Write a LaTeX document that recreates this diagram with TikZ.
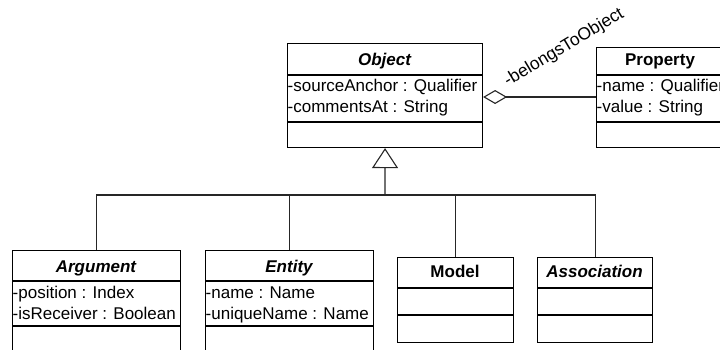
\documentclass[tikz,border=0pt]{standalone}
\usepackage{fontspec}
\setmainfont{Liberation Sans}
\usetikzlibrary{arrows.meta}
\begin{document}
\begin{tikzpicture}[x=1pt,y=-1pt,
  cls/.style={draw, line width=1.1pt, inner sep=0pt, anchor=north west},
  sepline/.style={line width=1.1pt},
  conn/.style={line width=1.1pt, black!85},
  attr/.style={anchor=base west, inner sep=0pt, font=\fontsize{17}{20}\selectfont},
  ttl/.style={anchor=base, inner sep=0pt, font=\fontsize{17}{20}\selectfont\bfseries},
  ttli/.style={ttl, font=\fontsize{17}{20}\selectfont\bfseries\itshape},
  lbl/.style={anchor=base west, inner sep=0pt, rotate=31, font=\fontsize{17.5}{20}\selectfont}
]
\useasboundingbox (0,0) rectangle (720,349);
\clip (0,0) rectangle (720,349);

% ---- class boxes ----
\node[cls, minimum width=195pt, minimum height=104pt] (object) at (287,43) {};
\node[cls, minimum width=150pt, minimum height=100pt] (property) at (596,47) {};
\node[cls, minimum width=168pt, minimum height=120pt] (argument) at (12,250) {};
\node[cls, minimum width=168pt, minimum height=120pt] (entity) at (205,250) {};
\node[cls, minimum width=116pt, minimum height=85pt] (model) at (397,257) {};
\node[cls, minimum width=115pt, minimum height=85pt] (assoc) at (537,257) {};

% ---- compartment separators ----
\coordinate (yA) at (0,75);
\coordinate (yB) at (0,122);
\coordinate (yC) at (0,281);
\coordinate (yD) at (0,326);
\coordinate (yE) at (0,288);
\coordinate (yF) at (0,315);
\draw[sepline] (object.west |- yA) -- (object.east |- yA);
\draw[sepline] (object.west |- yB) -- (object.east |- yB);
\draw[sepline] (property.west |- yA) -- (property.east |- yA);
\draw[sepline] (property.west |- yB) -- (property.east |- yB);
\draw[sepline] (argument.west |- yC) -- (argument.east |- yC);
\draw[sepline] (argument.west |- yD) -- (argument.east |- yD);
\draw[sepline] (entity.west |- yC) -- (entity.east |- yC);
\draw[sepline] (entity.west |- yD) -- (entity.east |- yD);
\draw[sepline] (model.west |- yE) -- (model.east |- yE);
\draw[sepline] (model.west |- yF) -- (model.east |- yF);
\draw[sepline] (assoc.west |- yE) -- (assoc.east |- yE);
\draw[sepline] (assoc.west |- yF) -- (assoc.east |- yF);

% ---- titles ----
\node[ttli] (objT) at (384.5,65) {Object};
\node[ttl] (propT) at (660,65) {Property};
\node[ttli] (argT) at (96,272) {Argument};
\node[ttli] (entT) at (289,272) {Entity};
\node[ttl] (modT) at (455,277) {Model};
\node[ttli] (assT) at (594.5,277) {Association};

% ---- attributes ----
\node[attr] (objA1) at (287.5,91) {-sourceAnchor : Qualifier};
\node[attr] (objA2) at (287.5,112) {-commentsAt : String};
\node[attr] (propA1) at (596.5,91) {-name : Qualifier};
\node[attr] (propA2) at (596.5,112) {-value : String};
\node[attr] (argA1) at (12.5,298) {-position : Index};
\node[attr] (argA2) at (12.5,319) {-isReceiver : Boolean};
\node[attr] (entA1) at (205.5,298) {-name : Name};
\node[attr] (entA2) at (205.5,319) {-uniqueName : Name};

% ---- aggregation ----
\coordinate (aggY) at (0,97);
\draw[conn, {Diamond[open, length=24pt, width=14pt]}-] (object.east |- aggY) -- (property.west |- aggY);
\node[lbl] (aggL) at (508,87) {-belongsToObject};

% ---- generalization ----
\coordinate (bus) at (385,195);
\draw[conn, -{Triangle[open, length=20pt, width=26pt]}] (bus) -- (object.south);
\draw[conn] (argument.north) -- (argument.north |- bus) -- (assoc.north |- bus) -- (assoc.north);
\draw[conn] (entity.north) -- (entity.north |- bus);
\draw[conn] (model.north) -- (model.north |- bus);
\end{tikzpicture}
\end{document}
